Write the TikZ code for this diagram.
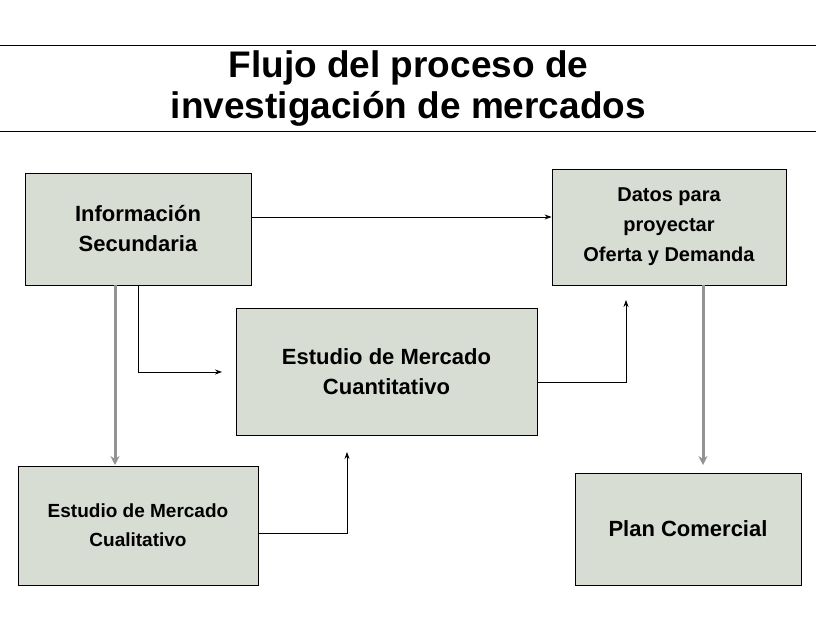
\documentclass[tikz,border=0pt]{standalone}
\usepackage{fontspec}
\setmainfont{Liberation Sans}
\usetikzlibrary{arrows.meta}
\definecolor{boxfill}{HTML}{D7DDD2}
\begin{document}
\begin{tikzpicture}[x=1pt,y=-1pt,
  box/.style={draw=black,fill=boxfill,line width=0.8pt,align=center,font=\bfseries\fontsize{22}{30}\selectfont,inner sep=0pt},
  thin/.style={draw=black,line width=0.8pt,-{Stealth[length=7pt,width=5pt]}},
  thick/.style={draw=gray!85,line width=3pt,-{Stealth[length=9pt,width=9pt]}}]
\useasboundingbox[fill=white] (0,0) rectangle (816,618);
\node[draw=black,line width=0.8pt,minimum width=820pt,minimum height=86pt,anchor=north west,inner sep=0pt,align=center,font=\bfseries\fontsize{37}{41}\selectfont] (title) at (-2,45) {Flujo del proceso de\\investigación de mercados};
\node[box,minimum width=226pt,minimum height=112pt] (info) at (138,229) {Información\\Secundaria};
\node[box,minimum width=234pt,minimum height=116pt,font=\bfseries\fontsize{20}{30}\selectfont] (datos) at (669,227) {Datos para\\proyectar\\Oferta y Demanda};
\node[box,minimum width=301pt,minimum height=127pt] (cuant) at (386.5,371.5) {Estudio de Mercado\\Cuantitativo};
\node[box,minimum width=240pt,minimum height=119pt,font=\bfseries\fontsize{19}{29}\selectfont] (cual) at (138,525.5) {Estudio de Mercado\\Cualitativo};
\node[box,minimum width=226pt,minimum height=112pt] (plan) at (688,529) {Plan Comercial};
\coordinate (a1) at (222,372);
\coordinate (a2) at (347,452);
\coordinate (a3) at (626,300);
\draw[thin] (info.east |- 0,217) -- (datos.west |- 0,217);
\draw[thin] (138,285) -- (138,372) -- (a1);
\draw[thin] (cual.east |- 0,533) -- (347,533) -- (a2);
\draw[thin] (cuant.east |- 0,382) -- (626,382) -- (a3);
\draw[thick] (115,285) -- (115,465);
\draw[thick] (703,285) -- (703,465);
\end{tikzpicture}
\end{document}
